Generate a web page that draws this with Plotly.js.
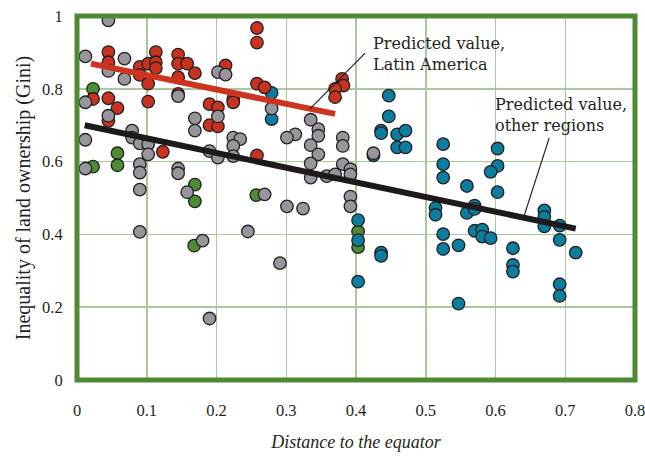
<!DOCTYPE html>
<html>
<head>
<meta charset="utf-8">
<script src="https://cdn.plot.ly/plotly-3.0.1.min.js"></script>
<style>html,body{margin:0;padding:0;background:#fff;}#chart{width:645px;height:456px;}</style>
</head>
<body>
<div id="chart"></div>
<script>
// Latin America (red)
const latinX = [0.045,0.045,0.090,0.102,0.113,0.113,0.113,0.090,0.102,0.145,0.145,0.158,0.169,0.145,0.102,0.145,0.023,0.045,0.058,0.045,0.123,0.190,0.202,0.190,0.202,0.213,0.224,0.224,0.258,0.258,0.258,0.269,0.258,0.380,0.382,0.370,0.370];
const latinY = [0.901,0.873,0.860,0.869,0.901,0.873,0.857,0.838,0.814,0.894,0.869,0.869,0.843,0.832,0.765,0.786,0.772,0.774,0.747,0.712,0.627,0.758,0.749,0.700,0.697,0.864,0.772,0.763,0.967,0.927,0.814,0.804,0.617,0.827,0.809,0.800,0.777];
// Other regions (gray)
const grayX = [0.045,0.012,0.045,0.068,0.068,0.145,0.012,0.045,0.012,0.079,0.079,0.090,0.102,0.102,0.012,0.090,0.090,0.090,0.145,0.145,0.158,0.169,0.169,0.202,0.202,0.213,0.224,0.234,0.224,0.190,0.202,0.224,0.269,0.279,0.335,0.346,0.346,0.313,0.301,0.335,0.346,0.335,0.335,0.358,0.370,0.381,0.381,0.381,0.392,0.392,0.392,0.392,0.425,0.301,0.324,0.291,0.245,0.090,0.180,0.190];
const grayY = [0.988,0.889,0.849,0.883,0.827,0.780,0.763,0.726,0.660,0.685,0.666,0.650,0.648,0.620,0.581,0.593,0.570,0.523,0.581,0.568,0.516,0.719,0.685,0.724,0.846,0.839,0.666,0.662,0.643,0.629,0.611,0.615,0.510,0.746,0.715,0.689,0.671,0.675,0.666,0.645,0.620,0.595,0.556,0.560,0.565,0.666,0.643,0.593,0.579,0.565,0.504,0.477,0.623,0.477,0.471,0.321,0.408,0.407,0.383,0.169];
// Green group
const greenX = [0.023,0.058,0.058,0.023,0.169,0.169,0.257,0.168,0.403,0.403];
const greenY = [0.800,0.623,0.590,0.586,0.537,0.491,0.508,0.369,0.408,0.365];
// Blue group
const blueX = [0.279,0.279,0.447,0.447,0.436,0.436,0.459,0.471,0.459,0.471,0.425,0.525,0.525,0.525,0.559,0.603,0.603,0.593,0.603,0.514,0.514,0.559,0.570,0.570,0.525,0.525,0.547,0.570,0.581,0.581,0.593,0.625,0.625,0.625,0.547,0.670,0.670,0.670,0.692,0.692,0.715,0.692,0.692,0.403,0.403,0.436,0.436,0.403];
const blueY = [0.789,0.717,0.781,0.724,0.685,0.678,0.675,0.685,0.639,0.639,0.617,0.648,0.593,0.556,0.533,0.636,0.588,0.572,0.516,0.473,0.454,0.459,0.479,0.470,0.401,0.360,0.370,0.410,0.413,0.394,0.390,0.362,0.316,0.298,0.210,0.466,0.448,0.422,0.424,0.385,0.350,0.263,0.231,0.439,0.384,0.350,0.341,0.270];
// Predicted lines
const predLatinX = [0.02, 0.37];
const predLatinY = [0.869, 0.731];
const predOtherX = [0.011, 0.715];
const predOtherY = [0.700, 0.416];

const tickVals = [0,0.1,0.2,0.3,0.4,0.5,0.6,0.7,0.8];
const tickText = ['0','0.1','0.2','0.3','0.4','0.5','0.6','0.7','0.8'];
const yTickVals = [0,0.2,0.4,0.6,0.8,1];
const yTickText = ['0','0.2','0.4','0.6','0.8','1'];

function pts(x, y, color){
  return {x:x, y:y, type:'scatter', mode:'markers', hoverinfo:'skip',
    marker:{size:12.5, color:color, line:{color:'#231f20', width:1.3}}};
}
const traces = [
  pts(greenX, greenY, '#4c8c32'),
  pts(blueX, blueY, '#0b7ea0'),
  pts(latinX, latinY, '#c8321f'),
  pts(grayX, grayY, '#96969c'),
  {x:predLatinX, y:predLatinY, type:'scatter', mode:'lines', line:{color:'#cc3420', width:6}, hoverinfo:'skip'},
  {x:predOtherX, y:predOtherY, type:'scatter', mode:'lines', line:{color:'#1e1a1b', width:6}, hoverinfo:'skip'}
];

const green = '#4e8a33';
const grid = '#a9c99b';
const layout = {
  width:645, height:456,
  margin:{l:77, r:10, t:16, b:76},
  paper_bgcolor:'#fff', plot_bgcolor:'#fff',
  showlegend:false,
  font:{family:'Liberation Serif, serif', color:'#231f20'},
  xaxis:{range:[0,0.8], tickvals:tickVals, ticktext:tickText, showgrid:true, gridcolor:grid, gridwidth:1.5,
    zeroline:false, showline:false, ticks:'outside', ticklen:15, tickcolor:'rgba(0,0,0,0)',
    ticklabeloverflow:'allow',
    tickfont:{family:'Liberation Serif, serif', size:16.5, color:'#231f20'},
    title:{text:'<i>Distance to the equator</i>', font:{family:'Liberation Serif, serif', size:18, color:'#231f20'}, standoff:16}},
  yaxis:{range:[0,1], tickvals:yTickVals, ticktext:yTickText, showgrid:true, gridcolor:grid, gridwidth:1.5,
    zeroline:false, showline:false, ticks:'outside', ticklen:10, tickcolor:'rgba(0,0,0,0)',
    tickfont:{family:'Liberation Serif, serif', size:16.5, color:'#231f20'},
    title:{text:'Inequality of land ownership (Gini)', font:{family:'Liberation Serif, serif', size:20, color:'#231f20'}, standoff:6}},
  shapes:[
    {type:'rect', xref:'paper', yref:'paper', x0:0, x1:1, y0:0, y1:1, line:{color:green, width:5}, layer:'above'},
    {type:'line', xref:'x', yref:'y', x0:0.413, y0:0.898, x1:0.334, y1:0.745, line:{color:'#231f20', width:1.2}, layer:'above'},
    {type:'line', xref:'x', yref:'y', x0:0.677, y0:0.665, x1:0.641, y1:0.451, line:{color:'#231f20', width:1.2}, layer:'above'}
  ],
  annotations:[
    {xref:'x', yref:'y', x:0.422, y:0.896, xanchor:'left', yanchor:'middle', align:'left', showarrow:false,
      text:'Predicted value,<br>Latin America', font:{family:'DejaVu Serif, serif', size:16, color:'#231f20'}},
    {xref:'x', yref:'y', x:0.597, y:0.728, xanchor:'left', yanchor:'middle', align:'left', showarrow:false,
      text:'Predicted value,<br>other regions', font:{family:'DejaVu Serif, serif', size:16, color:'#231f20'}}
  ]
};
Plotly.newPlot('chart', traces, layout, {displayModeBar:false, staticPlot:true});
</script>
</body>
</html>
